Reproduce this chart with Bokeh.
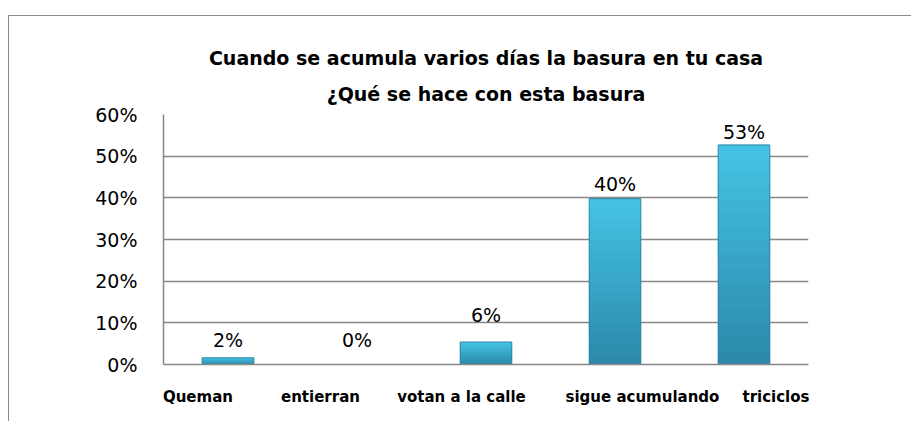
from bokeh.plotting import figure
from bokeh.models import Range1d, FixedTicker, NumeralTickFormatter, ColumnDataSource, LabelSet, Title
from bokeh.core.properties import value
from bokeh.embed import file_html
from bokeh.resources import INLINE

# ---- data ----
categories = ["Queman", "entierran", "votan a la calle", "sigue acumulando", "triciclos"]
values = [0.016, 0.0, 0.054, 0.398, 0.527]
value_labels = ["2%", "0%", "6%", "40%", "53%"]
y_ticks = [0.0, 0.1, 0.2, 0.3, 0.4, 0.5, 0.6]
title_lines = ["Cuando se acumula varios días la basura en tu casa",
               "¿Qué se hace con esta basura"]

# ---- layout / style constants ----
LABEL_SHIFT = [-0.233, -0.283, -0.19, 0.213, 0.248]   # category-label offsets (category units)
VALUE_GAP = [11, 18, 20, 8, 6]                         # px between bar top and value label
FONT = "DejaVu Sans"
GRID = "#878787"
BAR_W = 0.4
N_BANDS = 16
C_BOT = (0x2A, 0x86, 0xA6)
C_TOP = (0x44, 0xC2, 0xE4)

n = len(categories)
xs = [i + 0.5 for i in range(n)]

p = figure(width=903, height=406,
           x_range=Range1d(0, n), y_range=Range1d(0, 0.6),
           output_backend="svg", toolbar_location=None,
           min_border_left=154, min_border_right=104,
           min_border_top=98, min_border_bottom=58)
p.styles = {"border-top": "1px solid #8a8a8a", "border-left": "1px solid #8a8a8a",
            "position": "relative", "top": "15px", "left": "8px"}

# two-line centred title (second line nearest the plot)
p.title = None
t2 = Title(text=title_lines[1], align="center", text_font=FONT, text_font_size="19px",
           text_font_style="bold", text_color="#000000", standoff=19, offset=-7)
t1 = Title(text=title_lines[0], align="center", text_font=FONT, text_font_size="19px",
           text_font_style="bold", text_color="#000000", standoff=5, offset=-7)
p.add_layout(t2, "above")
p.add_layout(t1, "above")

p.outline_line_color = None
p.background_fill_color = "white"

# bars: vertical gradient made of nested bars (full bar first, shorter darker ones on top)
def mix(t):
    return "#%02x%02x%02x" % tuple(int(round(a + (b - a) * t)) for a, b in zip(C_BOT, C_TOP))

for k in range(N_BANDS):
    frac = (N_BANDS - k) / N_BANDS
    tops = [v * frac for v in values]
    p.vbar(x=xs, bottom=0, top=tops, width=BAR_W,
           fill_color=mix(frac), line_color=None)
p.vbar(x=xs, bottom=0, top=values, width=BAR_W, fill_alpha=0,
       line_color="#2a86a5", line_width=1)

# value labels
src = ColumnDataSource(dict(x=xs, y=values, t=value_labels, gap=VALUE_GAP))
p.add_layout(LabelSet(x="x", y="y", text="t", y_offset="gap", source=src,
                      text_align="center", text_baseline="alphabetic",
                      text_font=value(FONT), text_font_size=value("19px"),
                      text_color="#000000"))

# grid
p.xgrid.grid_line_color = None
p.ygrid.grid_line_color = GRID
p.ygrid.grid_line_width = 1.5
p.ygrid.ticker = FixedTicker(ticks=y_ticks)

# y axis
p.yaxis.ticker = FixedTicker(ticks=y_ticks)
p.yaxis.formatter = NumeralTickFormatter(format="0%")
p.yaxis.axis_line_color = GRID
p.yaxis.axis_line_width = 1.5
p.yaxis.major_tick_line_color = None
p.yaxis.minor_tick_line_color = None
p.yaxis.major_label_standoff = 20
p.yaxis.major_label_text_font = FONT
p.yaxis.major_label_text_font_size = "19px"
p.yaxis.major_label_text_color = "#000000"

# x axis
tick_pos = [round(x + s, 4) for x, s in zip(xs, LABEL_SHIFT)]
p.xaxis.ticker = FixedTicker(ticks=tick_pos)
p.xaxis.major_label_overrides = {tp: c for tp, c in zip(tick_pos, categories)}
p.xaxis.axis_line_color = GRID
p.xaxis.axis_line_width = 1.5
p.xaxis.major_tick_line_color = None
p.xaxis.minor_tick_line_color = None
p.xaxis.major_label_standoff = 17
p.xaxis.major_label_text_font = FONT
p.xaxis.major_label_text_font_size = "15px"
p.xaxis.major_label_text_font_style = "bold"
p.xaxis.major_label_text_color = "#000000"

open("out.html", "w").write(file_html(p, INLINE))
